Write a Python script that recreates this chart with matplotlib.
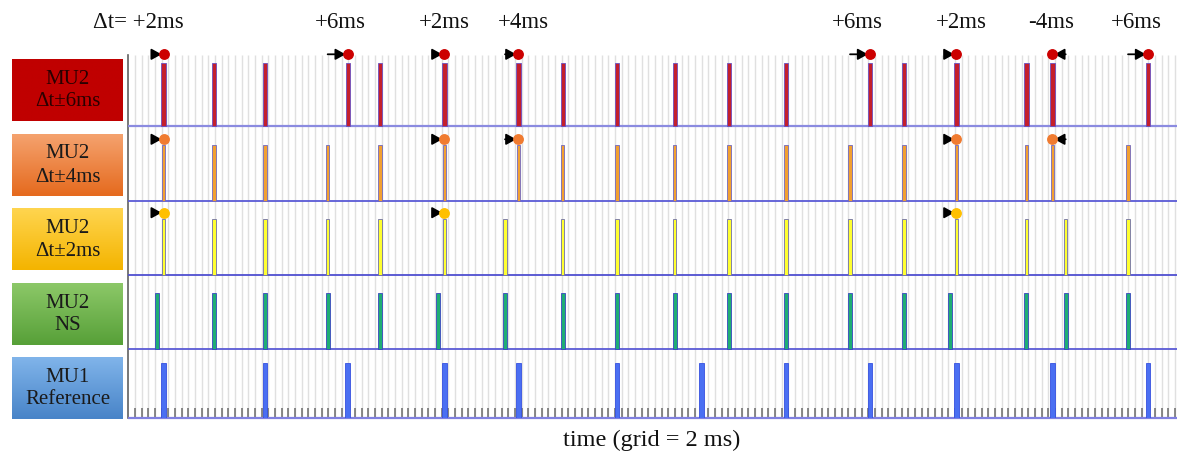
import numpy as np
import matplotlib
matplotlib.use("Agg")
import matplotlib.pyplot as plt
from matplotlib.colors import to_rgb

# ---------------- data (times in ms) ----------------
mu1_reference = [10.6, 41.0, 65.8, 94.8, 117.0, 146.6, 171.9, 197.3, 222.5, 248.4, 277.2, 305.9]
mu2_ns  = [8.6, 25.7, 41.0, 59.8, 75.5, 92.8, 113.0, 130.3, 146.6, 163.9, 180.2, 197.3, 216.5, 232.7, 246.4, 269.4, 281.2, 299.9]
mu2_dt2 = [10.6, 25.7, 41.0, 59.8, 75.5, 94.8, 113.0, 130.3, 146.6, 163.9, 180.2, 197.3, 216.5, 232.7, 248.4, 269.4, 281.2, 299.9]
mu2_dt4 = [10.6, 25.7, 41.0, 59.8, 75.5, 94.8, 117.0, 130.3, 146.6, 163.9, 180.2, 197.3, 216.5, 232.7, 248.4, 269.4, 277.2, 299.9]
mu2_dt6 = [10.6, 25.7, 41.0, 65.8, 75.5, 94.8, 117.0, 130.3, 146.6, 163.9, 180.2, 197.3, 222.5, 232.7, 248.4, 269.4, 277.2, 305.9]

row_titles = [("MU2", "Δt±6ms"), ("MU2", "Δt±4ms"), ("MU2", "Δt±2ms"), ("MU2", "NS"), ("MU1", "Reference")]
shift_labels = ["Δt= +2ms", "+6ms", "+2ms", "+4ms", "+6ms", "+2ms", "-4ms", "+6ms"]
xlabel_text = "time (grid = 2 ms)"
grid_ms = 2
t_max = 314.5

plt.rcParams["font.family"] = ["Liberation Serif", "DejaVu Serif"]

W, H = 1184, 459
fig = plt.figure(figsize=(W / 100, H / 100), dpi=100)

# layout in pixels
AXL, AXR, AXT, AXB = 128.33, 1176.7, 55.0, 417.7
bg = fig.add_axes([0, 0, 1, 1])
bg.set_xlim(0, W)
bg.set_ylim(H, 0)
bg.axis("off")

ax = fig.add_axes([AXL / W, 1 - AXB / H, (AXR - AXL) / W, (AXB - AXT) / H])
ax.patch.set_alpha(0)
ax.set_xlim(0, t_max)
ax.set_ylim(AXB, AXT)
px_per_ms = (AXR - AXL) / t_max

# grid
grid_x = np.arange(grid_ms, t_max, grid_ms)
ax.vlines(grid_x, AXB, AXT, color="#e0e0e0", lw=1.0, zorder=0)

# ticks on bottom
ax.set_xticks(grid_x)
ax.set_xticklabels([])
ax.tick_params(axis="x", direction="in", length=7.0, width=1.1, color="#6a6a6a")
ax.set_yticks([])
for s in ["top", "right", "bottom"]:
    ax.spines[s].set_visible(False)
ax.spines["left"].set_color("#606060")
ax.spines["left"].set_linewidth(1.2)

rows = [
    dict(spikes=mu2_dt6, base=126.0, top=62.7, fill="#c41f2c", edge="#6a4fc0", w=1.3,
         line="#8b8be0", lw=1.6, dot="#cc0000", doty=54.3),
    dict(spikes=mu2_dt4, base=200.7, top=145.0, fill="#f2a030", edge="#7068c0", w=1.05,
         line="#5a5ad6", lw=1.3, dot="#f07b30", doty=139.3),
    dict(spikes=mu2_dt2, base=275.3, top=219.3, fill="#ffff30", edge="#6e6ea8", w=1.05,
         line="#4f4fd0", lw=1.3, dot="#ffc000", doty=212.7),
    dict(spikes=mu2_ns, base=348.7, top=293.3, fill="#1fae74", edge="#3845c0", w=1.2,
         line="#5a5ad6", lw=1.3, dot=None, doty=None),
    dict(spikes=mu1_reference, base=417.7, top=362.7, fill="#4a6ff2", edge="#3550e0", w=1.45,
         line="#8080e0", lw=1.6, dot=None, doty=None),
]

for r in rows:
    ax.plot([0, t_max], [r["base"], r["base"]], color=r["line"], lw=r["lw"], zorder=3,
            clip_on=False, solid_capstyle="butt")
    ax.bar(r["spikes"], r["top"] - r["base"], bottom=r["base"], width=r["w"],
           color=r["fill"], edgecolor=r["edge"], linewidth=0.6, zorder=4)
    if r["dot"] is not None:
        for t_new, t_old in zip(r["spikes"], mu2_ns):
            if t_new != t_old:
                ax.annotate("", xy=(t_new, r["doty"]), xytext=(t_old, r["doty"]),
                            xycoords="data", textcoords="data", annotation_clip=False,
                            arrowprops=dict(arrowstyle="-|>,head_length=0.6,head_width=0.33",
                                            color="black", lw=1.3, mutation_scale=10,
                                            shrinkA=0, shrinkB=1.5),
                            zorder=6)
                ax.plot(t_new, r["doty"], "o", ms=6.8, color=r["dot"], mec=r["dot"],
                        clip_on=False, zorder=7)

# top shift labels (anchored to the shifted spikes of the top row)
shifted = [t for t, o in zip(mu2_dt6, mu2_ns) if t != o]
label_dx_px = [20, -7, 0, 5, -13, 5, -1, -12]
for i, (t, lab, dx) in enumerate(zip(shifted, shift_labels, label_dx_px)):
    ax.text(t + dx / px_per_ms, 22.5, lab, ha="right" if i == 0 else "center",
            va="center", fontsize=16.5, color="#111111", clip_on=False)

# left coloured boxes
box_colors = [("#c00000", "#c00000"), ("#f5a26e", "#e56a1e"), ("#ffd54f", "#f4b400"),
              ("#8cc868", "#57a038"), ("#80b4ea", "#4884c8")]
box_tops = [59.0, 134.0, 208.5, 283.0, 357.0]
box_h = 62.0
bx0, bx1 = 12.0, 123.0
text_cols = ["#2a0000", "#1a1a1a", "#1a1a1a", "#1a1a1a", "#1a1a1a"]
for (c_top, c_bot), y0, (l1, l2), tc in zip(box_colors, box_tops, row_titles, text_cols):
    a, b = np.array(to_rgb(c_top)), np.array(to_rgb(c_bot))
    f = np.linspace(0, 1, 64)[:, None, None]
    grad = a[None, None, :] * (1 - f) + b[None, None, :] * f
    bg.imshow(grad, extent=(bx0, bx1, y0 + box_h, y0), aspect="auto", interpolation="bilinear")
    yc = y0 + box_h / 2
    bg.text((bx0 + bx1) / 2, yc - 11, l1, ha="center", va="center", fontsize=15, color=tc)
    bg.text((bx0 + bx1) / 2, yc + 12, l2, ha="center", va="center", fontsize=15, color=tc)
bg.set_xlim(0, W)
bg.set_ylim(H, 0)

bg.text(652, 440, xlabel_text, ha="center", va="center", fontsize=17.5, color="#111111")

fig.savefig("out.png", dpi=100)
